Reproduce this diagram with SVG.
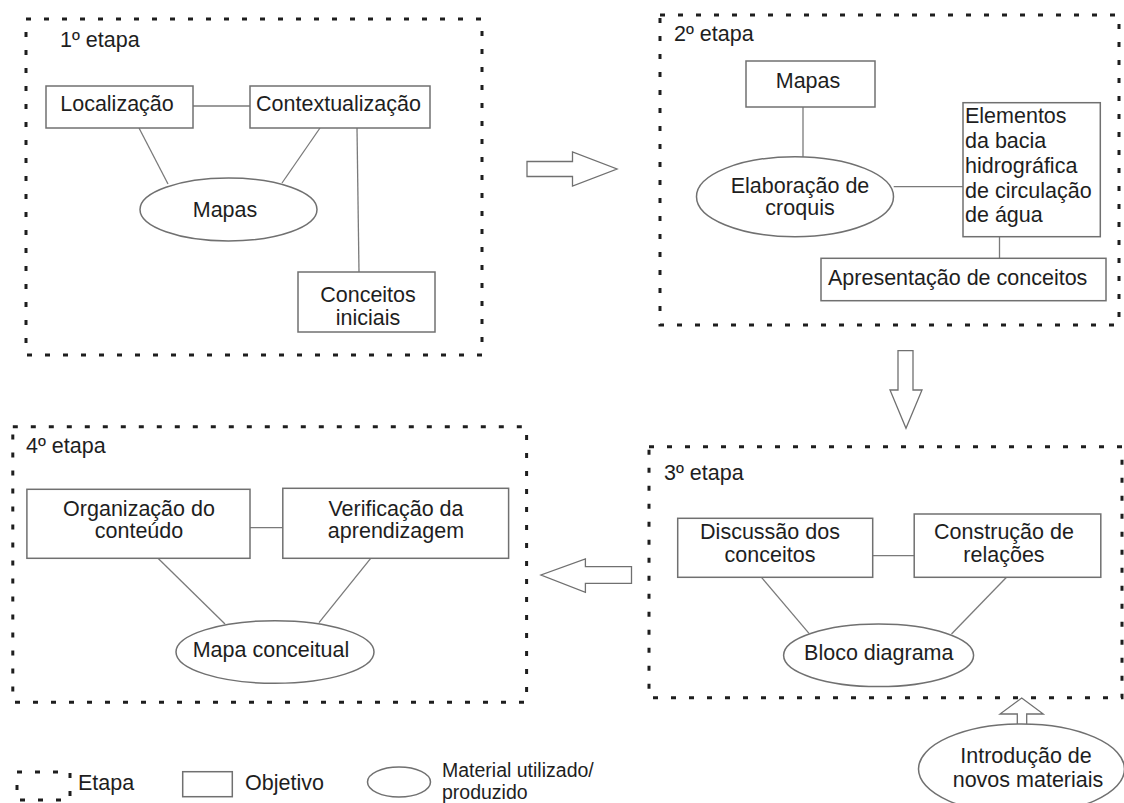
<svg xmlns="http://www.w3.org/2000/svg" width="1124" height="803" viewBox="0 0 1124 803">
<style>
.stage{fill:none;stroke:#1e1e1e;stroke-width:3;stroke-dasharray:5 13}
.obj{fill:#fff;stroke:#707070;stroke-width:1.5}
.mat{fill:#fff;stroke:#707070;stroke-width:1.5}
.con{stroke:#7a7a7a;stroke-width:1.3;fill:none}
.arr{fill:#fff;stroke:#707070;stroke-width:1.3}
text{font-family:"Liberation Sans",Arial,sans-serif;font-size:21.5px;fill:#1e1e1e}
.c{text-anchor:middle}
.lg{font-size:19.5px}
</style>
<rect width="1124" height="803" fill="#fff"/>

<g id="stages">
  <g id="stage1"><rect class="stage" x="26" y="19" width="456" height="336"/><text x="60" y="47">1º etapa</text></g>
  <g id="stage2"><rect class="stage" x="660" y="15" width="459" height="310"/><text x="674" y="41">2º etapa</text></g>
  <g id="stage3"><rect class="stage" x="649" y="446.7" width="473" height="251"/><text x="664" y="480">3º etapa</text></g>
  <g id="stage4"><rect class="stage" x="12.8" y="426.7" width="513.8" height="275.6"/><text x="26" y="453.3">4º etapa</text></g>
</g>

<g id="connectors">
  <line class="con" x1="193" y1="106" x2="250" y2="106"/>
  <line class="con" x1="139" y1="128" x2="168" y2="184"/>
  <line class="con" x1="320" y1="128" x2="282" y2="183"/>
  <line class="con" x1="357" y1="128" x2="359" y2="272"/>
  <line class="con" x1="803" y1="107" x2="803" y2="157"/>
  <line class="con" x1="893.7" y1="186.7" x2="963" y2="186.7"/>
  <line class="con" x1="999.5" y1="236.7" x2="999.5" y2="258.3"/>
  <line class="con" x1="872.7" y1="555.7" x2="914.2" y2="555.7"/>
  <line class="con" x1="761.5" y1="577.3" x2="809" y2="633.3"/>
  <line class="con" x1="1006.5" y1="577.3" x2="951.5" y2="634"/>
  <line class="con" x1="250" y1="527.7" x2="282.8" y2="527.7"/>
  <line class="con" x1="158" y1="558.3" x2="225" y2="624"/>
  <line class="con" x1="370.7" y1="558.3" x2="319" y2="622.7"/>
  <path class="arr" d="M527,161.5 H572.5 V152 L617,169 L572.5,186 V176.5 H527 Z"/>
  <path class="arr" d="M898,350.7 H913 V390 H922 L906,428.3 L890,390 H898 Z"/>
  <path class="arr" d="M631.5,566.7 V583.3 H585.4 V592.3 L541,575 L585.4,559 V566.7 Z"/>
  <path class="arr" d="M1017.3,724.5 V714 H1000 L1021.7,698 L1043.3,714 H1026.7 V724.5"/>
</g>

<g id="n-localizacao"><rect class="obj" x="46" y="86" width="147" height="42"/><text class="c" x="117" y="111">Localização</text></g>
<g id="n-contextualizacao"><rect class="obj" x="250" y="86" width="180" height="42"/><text class="c" x="338.5" y="111">Contextualização</text></g>
<g id="n-mapas1"><ellipse class="mat" cx="228.5" cy="209.5" rx="88.5" ry="31.5"/><text class="c" x="225" y="217">Mapas</text></g>
<g id="n-conceitos-iniciais"><rect class="obj" x="298" y="272" width="137" height="60"/><text class="c" x="368" y="302">Conceitos</text><text class="c" x="368" y="325">iniciais</text></g>

<g id="n-mapas2"><rect class="obj" x="746" y="61" width="129" height="46"/><text class="c" x="808" y="87.5">Mapas</text></g>
<g id="n-elaboracao"><ellipse class="mat" cx="795" cy="196.7" rx="98.5" ry="40"/><text class="c" x="800" y="192.5">Elaboração de</text><text class="c" x="800" y="215">croquis</text></g>
<g id="n-elementos"><rect class="obj" x="963" y="102.7" width="137.3" height="134"/>
<text x="965" y="123.3">Elementos</text><text x="965" y="148">da bacia</text><text x="965" y="172.7">hidrográfica</text><text x="965" y="198.3">de circulação</text><text x="965" y="222">de água</text></g>
<g id="n-apresentacao"><rect class="obj" x="821" y="258.3" width="285" height="42.4"/><text x="828" y="285">Apresentação de conceitos</text></g>

<g id="n-discussao"><rect class="obj" x="677.7" y="518.3" width="195" height="59"/><text class="c" x="770" y="539.3">Discussão dos</text><text class="c" x="770" y="561.7">conceitos</text></g>
<g id="n-construcao"><rect class="obj" x="914.2" y="514" width="186.6" height="63.3"/><text class="c" x="1004" y="539.3">Construção de</text><text class="c" x="1004" y="561.7">relações</text></g>
<g id="n-bloco"><ellipse class="mat" cx="878.6" cy="655.3" rx="95" ry="31.3"/><text class="c" x="878.8" y="660">Bloco diagrama</text></g>
<g id="n-introducao"><ellipse class="mat" cx="1021.5" cy="769" rx="103" ry="45"/><text class="c" x="1026" y="763.3">Introdução de</text><text class="c" x="1028" y="786.7">novos materiais</text></g>

<g id="n-organizacao"><rect class="obj" x="26.9" y="489.3" width="223.1" height="69"/><text class="c" x="139" y="515.7">Organização do</text><text class="c" x="139" y="538.3">conteúdo</text></g>
<g id="n-verificacao"><rect class="obj" x="282.8" y="488.3" width="225.8" height="70"/><text class="c" x="396" y="515.7">Verificação da</text><text class="c" x="396" y="538.3">aprendizagem</text></g>
<g id="n-mapa-conceitual"><ellipse class="mat" cx="275" cy="652" rx="99" ry="31.3"/><text class="c" x="271" y="657.3">Mapa conceitual</text></g>

<g id="legend">
  <rect class="stage" x="17" y="772" width="53" height="28"/><text x="78" y="790">Etapa</text>
  <rect class="obj" x="182.7" y="771.7" width="49.6" height="25"/><text x="245" y="790">Objetivo</text>
  <ellipse class="mat" cx="399" cy="782" rx="31.5" ry="15"/><text class="lg" x="442" y="776.5">Material utilizado/</text><text class="lg" x="442" y="798.5">produzido</text>
</g>
</svg>
